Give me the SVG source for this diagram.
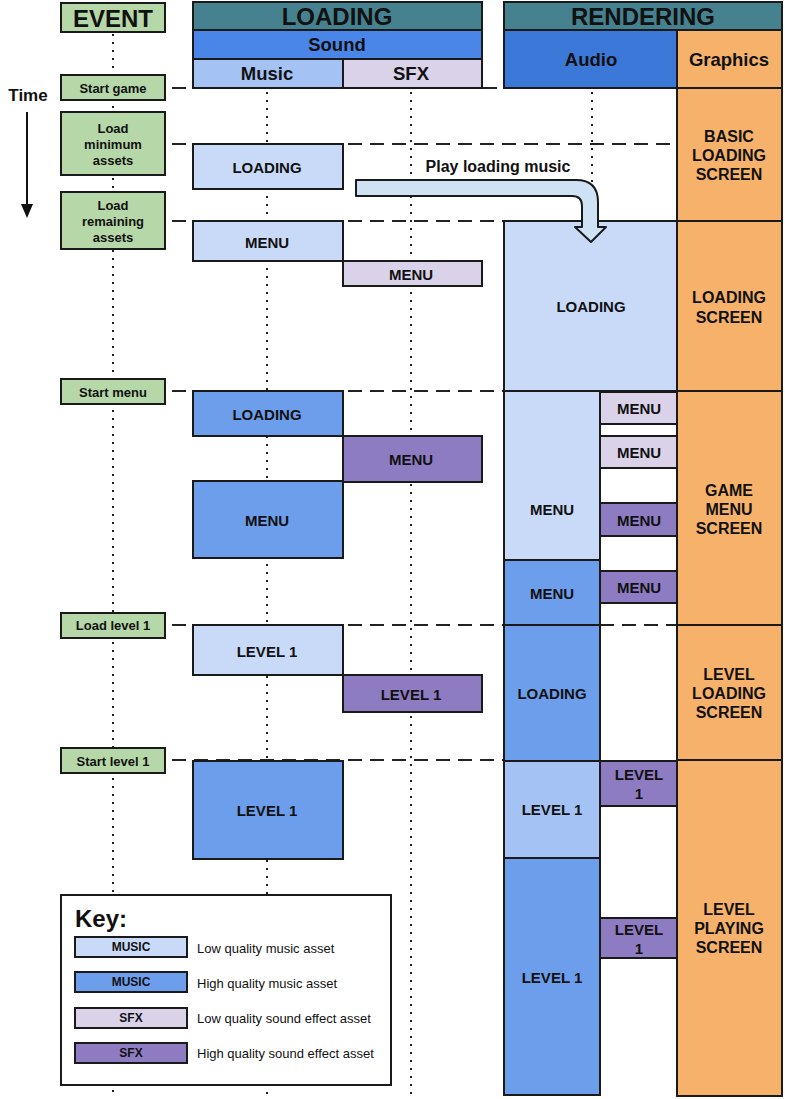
<svg xmlns="http://www.w3.org/2000/svg" width="785" height="1099" viewBox="0 0 785 1099">
<style>
text{font-family:"Liberation Sans",Arial,sans-serif;font-weight:bold;fill:#111;text-anchor:middle;dominant-baseline:central}
.b{stroke:#1a1a1a;stroke-width:2}
.ev{fill:#b6d7a8}
.teal{fill:#45818e}
.snd{fill:#4a86e8}
.aud{fill:#3c78d8}
.mh{fill:#a4c2f4}
.lm{fill:#c9daf8}
.hm{fill:#6d9eeb}
.ls{fill:#d9d2e9}
.hs{fill:#8e7cc3}
.gr{fill:#f6b26b}
.dot{stroke:#222;stroke-width:2;stroke-dasharray:2 6;fill:none}
.dash{stroke:#222;stroke-width:2;stroke-dasharray:14 8;fill:none}
.t12{font-size:12px}
.t13{font-size:13px}
.t15{font-size:15px}
.t16{font-size:16px}
.t17{font-size:17px}
.t18{font-size:18.5px}
.t24{font-size:24px}
.kl{font-weight:normal;font-size:13px;text-anchor:start}
</style>
<rect width="785" height="1099" fill="#fff"/>

<g id="connectors">
<line class="dot" x1="113" y1="34" x2="113" y2="1095"/>
<line class="dot" x1="267" y1="92" x2="267" y2="1095"/>
<line class="dot" x1="411" y1="92" x2="411" y2="1095"/>
<line class="dot" x1="592" y1="92" x2="592" y2="221"/>
<line class="dash" x1="172" y1="88" x2="192" y2="88"/>
<line class="dash" x1="483" y1="88" x2="498" y2="88"/>
<line class="dash" x1="172" y1="144" x2="677" y2="144"/>
<line class="dash" x1="172" y1="221" x2="504" y2="221"/>
<line class="dash" x1="172" y1="391" x2="504" y2="391"/>
<line class="dash" x1="172" y1="625" x2="504" y2="625"/>
<line class="dash" x1="600" y1="625" x2="677" y2="625"/>
<line class="dash" x1="172" y1="760" x2="504" y2="760"/>
<line x1="27" y1="112" x2="27" y2="206" stroke="#111" stroke-width="2"/>
<polygon points="21,204 33,204 27,218" fill="#111"/>
</g>

<g id="time-label"><text class="t17" x="28" y="95">Time</text></g>

<g id="hdr-event"><rect class="b ev" x="61" y="3" width="104" height="29"/><text class="t24" x="113" y="18">EVENT</text></g>
<g id="hdr-loading"><rect class="b teal" x="193" y="2" width="289" height="28"/><text class="t24" x="337" y="16">LOADING</text></g>
<g id="hdr-sound"><rect class="b snd" x="193" y="30" width="289" height="29"/><text class="t18" x="337" y="44">Sound</text></g>
<g id="hdr-music"><rect class="b mh" x="193" y="59" width="150" height="29"/><text class="t18" x="267" y="73">Music</text></g>
<g id="hdr-sfx"><rect class="b ls" x="343" y="59" width="139" height="29"/><text class="t18" x="411" y="73">SFX</text></g>
<g id="hdr-rendering"><rect class="b teal" x="504" y="2" width="278" height="28"/><text class="t24" x="643" y="16">RENDERING</text></g>
<g id="hdr-audio"><rect class="b aud" x="504" y="30" width="173" height="58"/><text class="t18" x="591" y="59">Audio</text></g>
<g id="hdr-graphics"><rect class="b gr" x="677" y="30" width="105" height="58"/><text class="t18" x="729" y="59">Graphics</text></g>

<g id="ev-start-game"><rect class="b ev" x="61" y="75" width="104" height="25"/><text class="t13" x="113" y="88">Start game</text></g>
<g id="ev-load-min"><rect class="b ev" x="61" y="112" width="104" height="63"/><text class="t13" x="113" y="128">Load</text><text class="t13" x="113" y="144">minimum</text><text class="t13" x="113" y="160">assets</text></g>
<g id="ev-load-rem"><rect class="b ev" x="61" y="192" width="104" height="57"/><text class="t13" x="113" y="205">Load</text><text class="t13" x="113" y="221">remaining</text><text class="t13" x="113" y="237">assets</text></g>
<g id="ev-start-menu"><rect class="b ev" x="61" y="379" width="104" height="25"/><text class="t13" x="113" y="392">Start menu</text></g>
<g id="ev-load-level"><rect class="b ev" x="61" y="613" width="104" height="25"/><text class="t13" x="113" y="625">Load level 1</text></g>
<g id="ev-start-level"><rect class="b ev" x="61" y="748" width="104" height="25"/><text class="t13" x="113" y="761">Start level 1</text></g>

<g id="ld-music-loading"><rect class="b lm" x="193" y="144" width="150" height="45"/><text class="t15" x="267" y="167">LOADING</text></g>
<g id="ld-music-menu-lq"><rect class="b lm" x="193" y="221" width="150" height="40"/><text class="t15" x="267" y="242">MENU</text></g>
<g id="ld-sfx-menu-lq"><rect class="b ls" x="343" y="261" width="139" height="25"/><text class="t15" x="411" y="274">MENU</text></g>
<g id="ld-music-loading-hq"><rect class="b hm" x="193" y="391" width="150" height="45"/><text class="t15" x="267" y="414">LOADING</text></g>
<g id="ld-sfx-menu-hq"><rect class="b hs" x="343" y="436" width="139" height="46"/><text class="t15" x="411" y="459">MENU</text></g>
<g id="ld-music-menu-hq"><rect class="b hm" x="193" y="481" width="150" height="77"/><text class="t15" x="267" y="520">MENU</text></g>
<g id="ld-music-level-lq"><rect class="b lm" x="193" y="625" width="150" height="50"/><text class="t15" x="267" y="651">LEVEL 1</text></g>
<g id="ld-sfx-level-hq"><rect class="b hs" x="343" y="675" width="139" height="37"/><text class="t15" x="411" y="694">LEVEL 1</text></g>
<g id="ld-music-level-hq"><rect class="b hm" x="193" y="761" width="150" height="98"/><text class="t15" x="267" y="810">LEVEL 1</text></g>

<g id="ra-loading"><rect class="b lm" x="504" y="221" width="173" height="170"/><text class="t15" x="591" y="306">LOADING</text></g>
<g id="ra-menu-lq"><rect class="b lm" x="504" y="391" width="96" height="169"/><text class="t15" x="552" y="509">MENU</text></g>
<g id="ra-menu-hq"><rect class="b hm" x="504" y="560" width="96" height="65"/><text class="t15" x="552" y="593">MENU</text></g>
<g id="ra-loading-hq"><rect class="b hm" x="504" y="625" width="96" height="136"/><text class="t15" x="552" y="693">LOADING</text></g>
<g id="ra-level-mid"><rect class="b mh" x="504" y="761" width="96" height="97"/><text class="t15" x="552" y="809">LEVEL 1</text></g>
<g id="ra-level-hq"><rect class="b hm" x="504" y="858" width="96" height="237"/><text class="t15" x="552" y="977">LEVEL 1</text></g>

<g id="play-arrow">
<path d="M356,180 H576 Q598,180 598,202 V227 H606 L591,242 L575,227 H582 V206 Q582,196 572,196 H356 Z" fill="#cfe2f3" stroke="#1a1a1a" stroke-width="2" stroke-linejoin="round"/>
<text class="t16" x="498" y="166">Play loading music</text>
</g>

<g id="rs-menu-1"><rect class="b ls" x="600" y="392" width="77" height="32"/><text class="t15" x="639" y="408">MENU</text></g>
<g id="rs-menu-2"><rect class="b ls" x="600" y="436" width="77" height="32"/><text class="t15" x="639" y="452">MENU</text></g>
<g id="rs-menu-3"><rect class="b hs" x="600" y="503" width="77" height="33"/><text class="t15" x="639" y="520">MENU</text></g>
<g id="rs-menu-4"><rect class="b hs" x="600" y="571" width="77" height="32"/><text class="t15" x="639" y="587">MENU</text></g>
<g id="rs-level-1"><rect class="b hs" x="600" y="761" width="77" height="45"/><text class="t15" x="639" y="774">LEVEL</text><text class="t15" x="639" y="793">1</text></g>
<g id="rs-level-2"><rect class="b hs" x="600" y="918" width="77" height="40"/><text class="t15" x="639" y="929">LEVEL</text><text class="t15" x="639" y="948">1</text></g>

<g id="gr-basic"><rect class="b gr" x="677" y="88" width="105" height="133"/><text class="t16" x="729" y="136">BASIC</text><text class="t16" x="729" y="155">LOADING</text><text class="t16" x="729" y="174">SCREEN</text></g>
<g id="gr-loading"><rect class="b gr" x="677" y="221" width="105" height="170"/><text class="t16" x="729" y="297">LOADING</text><text class="t16" x="729" y="317">SCREEN</text></g>
<g id="gr-menu"><rect class="b gr" x="677" y="391" width="105" height="234"/><text class="t16" x="729" y="490">GAME</text><text class="t16" x="729" y="509">MENU</text><text class="t16" x="729" y="528">SCREEN</text></g>
<g id="gr-level-loading"><rect class="b gr" x="677" y="625" width="105" height="135"/><text class="t16" x="729" y="674">LEVEL</text><text class="t16" x="729" y="693">LOADING</text><text class="t16" x="729" y="712">SCREEN</text></g>
<g id="gr-level-playing"><rect class="b gr" x="677" y="760" width="105" height="336"/><text class="t16" x="729" y="909">LEVEL</text><text class="t16" x="729" y="928">PLAYING</text><text class="t16" x="729" y="947">SCREEN</text></g>

<g id="key">
<rect class="b" fill="#fff" x="61" y="895" width="330" height="190"/>
<text class="t24" x="75" y="918" style="text-anchor:start">Key:</text>
<rect class="b lm" x="75" y="937" width="112" height="20"/><text class="t12" x="131" y="947">MUSIC</text><text class="kl" x="197" y="948">Low quality music asset</text>
<rect class="b hm" x="75" y="972" width="112" height="20"/><text class="t12" x="131" y="982">MUSIC</text><text class="kl" x="197" y="983">High quality music asset</text>
<rect class="b ls" x="75" y="1008" width="112" height="20"/><text class="t12" x="131" y="1018">SFX</text><text class="kl" x="197" y="1018">Low quality sound effect asset</text>
<rect class="b hs" x="75" y="1043" width="112" height="20"/><text class="t12" x="131" y="1053">SFX</text><text class="kl" x="197" y="1053">High quality sound effect asset</text>
</g>
</svg>
